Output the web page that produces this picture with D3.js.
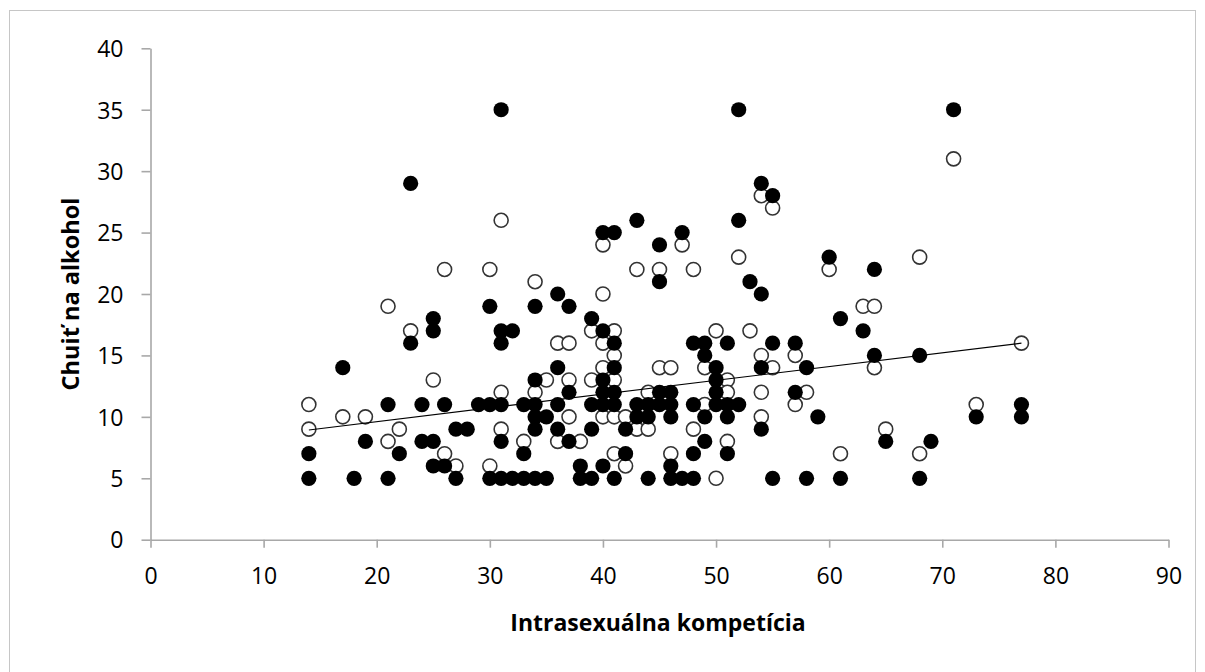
<!DOCTYPE html>
<html><head><meta charset="utf-8">
<script src="https://cdn.jsdelivr.net/npm/d3@7"></script>
<style>
html,body{margin:0;padding:0;background:#fff;}
svg{display:block;}
text{font-family:"Open Sans","Noto Sans",sans-serif;fill:#000;}
</style></head>
<body>
<svg id="c" width="1205" height="672"></svg>
<script>
// Filled-marker series: [x, y]
const seriesFilled = [
 [14,5],[14,7],[17,14],[18,5],[19,8],[21,11],[21,5],[22,7],[23,29],[23,16],
 [24,11],[24,8],[25,18],[25,17],[25,8],[25,6],[26,11],[26,6],[27,9],[27,5],
 [28,9],[29,11],[30,19],[30,11],[30,5],[31,35],[31,17],[31,16],[31,11],[31,8],
 [31,5],[32,17],[32,5],[33,11],[33,7],[33,5],[34,19],[34,13],[34,11],[34,10],
 [34,9],[34,5],[35,10],[35,5],[36,20],[36,14],[36,11],[36,9],[37,19],[37,12],
 [37,8],[38,6],[38,5],[39,18],[39,11],[39,9],[39,5],[40,25],[40,17],[40,13],
 [40,12],[40,11],[40,6],[41,25],[41,16],[41,14],[41,12],[41,11],[41,5],[42,9],
 [42,7],[43,26],[43,11],[43,10],[44,11],[44,10],[44,5],[45,24],[45,21],[45,12],
 [45,11],[46,12],[46,11],[46,10],[46,6],[46,5],[47,25],[47,5],[48,16],[48,11],
 [48,7],[48,5],[49,16],[49,15],[49,10],[49,8],[50,14],[50,13],[50,12],[50,11],
 [51,16],[51,11],[51,10],[51,7],[52,35],[52,26],[52,11],[53,21],[54,29],[54,20],
 [54,14],[54,9],[55,28],[55,16],[55,5],[57,16],[57,12],[58,14],[58,5],[59,10],
 [60,23],[61,18],[61,5],[63,17],[64,22],[64,15],[65,8],[68,15],[68,5],[69,8],
 [71,35],[73,10],[77,11],[77,10]
];
// Open-marker series: [x, y]
const seriesOpen = [
 [14,9],[14,11],[17,10],[19,10],[21,19],[21,8],[22,9],[23,17],[25,13],[26,22],
 [26,7],[27,6],[30,22],[30,6],[31,26],[31,12],[31,9],[33,8],[34,21],[34,12],
 [35,13],[36,16],[36,8],[37,16],[37,13],[37,10],[38,8],[39,17],[39,13],[40,24],
 [40,20],[40,16],[40,14],[40,10],[41,17],[41,15],[41,13],[41,10],[41,7],[42,10],
 [42,6],[43,22],[43,9],[44,12],[44,9],[45,22],[45,14],[46,14],[46,7],[47,24],
 [48,22],[48,9],[49,14],[49,11],[50,17],[50,5],[51,13],[51,12],[51,8],[52,23],
 [53,17],[54,28],[54,15],[54,12],[54,10],[55,27],[55,14],[57,15],[57,11],[58,12],
 [60,22],[61,7],[63,19],[64,19],[64,14],[65,9],[68,23],[68,7],[71,31],[73,11],
 [77,16]
];
// Linear trend line end points
const trendLine = [[14,8.93],[77,16.0]];
const xTicks = [0,10,20,30,40,50,60,70,80,90];
const yTicks = [0,5,10,15,20,25,30,35,40];
const xTitle = "Intrasexuálna kompetícia";
const yTitle = "Chuiť na alkohol";

const svg = d3.select("#c");
// outer frame
svg.append("rect").attr("x",9.5).attr("y",10.5).attr("width",1186).attr("height",700)
  .attr("fill","none").attr("stroke","#c6c6c6").attr("stroke-width",1);

const x = d3.scaleLinear().domain([0,90]).range([150.5,1168.5]);
const y = d3.scaleLinear().domain([0,40]).range([539.7,48.3]);

const axisColor = "#a8a8a8";
const gx = svg.append("g").attr("transform",`translate(0,${y(0)})`)
  .call(d3.axisBottom(x).tickValues(xTicks).tickSize(8).tickPadding(20).tickSizeOuter(0));
const gy = svg.append("g").attr("transform",`translate(${x(0)},0)`)
  .call(d3.axisLeft(y).tickValues(yTicks).tickSize(9).tickPadding(18).tickSizeOuter(0));
[gx,gy].forEach(g=>{
  g.select(".domain").attr("stroke",axisColor).attr("stroke-width",1.6);
  g.selectAll(".tick line").attr("stroke",axisColor).attr("stroke-width",1.6);
  g.selectAll(".tick text").style("font-family",'"Open Sans",sans-serif').style("font-size","23px").attr("fill","#000");
});
gy.selectAll(".tick text").attr("dy","0.36em");

// axis titles
svg.append("text").attr("x",658).attr("y",631).attr("text-anchor","middle")
  .style("font-size","23px").style("font-weight","bold").text(xTitle);
svg.append("text").attr("transform",`translate(79,294) rotate(-90)`).attr("text-anchor","middle")
  .style("font-size","23.5px").style("font-weight","bold").text(yTitle);

const r = 7.6;
svg.append("g").selectAll("circle").data(seriesOpen).join("circle")
  .attr("cx",d=>x(d[0])).attr("cy",d=>y(d[1])).attr("r",r-0.6)
  .attr("fill","#fff").attr("stroke","#333").attr("stroke-width",1.6);
svg.append("g").selectAll("circle").data(seriesFilled).join("circle")
  .attr("cx",d=>x(d[0])).attr("cy",d=>y(d[1])).attr("r",r)
  .attr("fill","#000");

svg.append("path").datum(trendLine)
  .attr("d",d3.line().x(d=>x(d[0])).y(d=>y(d[1])))
  .attr("fill","none").attr("stroke","#000").attr("stroke-width",1.2);
</script>
</body></html>
